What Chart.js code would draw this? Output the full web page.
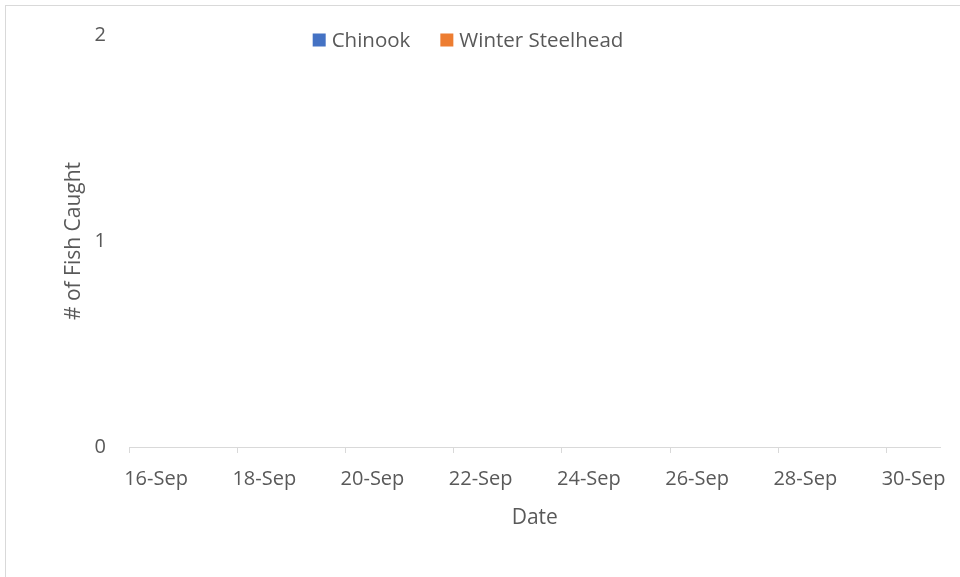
<!DOCTYPE html>
<html lang="en">
<head>
    <meta charset="UTF-8">
    <title>fish caught</title>
    <style>
        body { margin: 0; background: #fff; }
        #wrap { position: relative; width: 960px; height: 577px; overflow: hidden; }
        #frame { position: absolute; left: 5px; top: 5px; width: 1200px; height: 900px; border: 1px solid #d9d9d9; }
        #myChart { position: absolute; left: 0; top: 0; }
    </style>
</head>
<body>
    <div id="wrap">
        <div id="frame"></div>
        <canvas id="myChart" width="960" height="577"></canvas>
    </div>

    <script src="https://cdn.jsdelivr.net/npm/chart.js"></script>
    <script>
const dates = ['16-Sep','17-Sep','18-Sep','19-Sep','20-Sep','21-Sep','22-Sep','23-Sep',
               '24-Sep','25-Sep','26-Sep','27-Sep','28-Sep','29-Sep','30-Sep']
const chinook = [0,0,0,0,0,0,0,0,0,0,0,0,0,0,0]
const winterSteelhead = [0,0,0,0,0,0,0,0,0,0,0,0,0,0,0]
const yTicks = [0, 1, 2]

const grey = '#595959'
const font = 'Open Sans'

// legend sits on top of the plot area like in the original, so draw it by hand
const topLegend = {
  id: 'topLegend',
  afterDraw(chart) {
    const c = chart.ctx
    const box = 13, gap = 6, between = 30
    c.save()
    c.font = '20.5px "' + font + '"'
    c.textBaseline = 'middle'
    const items = chart.data.datasets.map(d => ({ label: d.label, color: d.backgroundColor, w: c.measureText(d.label).width }))
    let total = items.reduce((s, it) => s + box + gap + it.w, 0) + between * (items.length - 1)
    let x = 468 - total / 2
    const y = 40
    items.forEach(it => {
      c.fillStyle = it.color
      c.fillRect(x, y - box / 2, box, box)
      x += box + gap
      c.fillStyle = grey
      c.fillText(it.label, x, y + 1)
      x += it.w + between
    })
    c.restore()
  }
}

new Chart(document.getElementById('myChart'), {
  type: 'bar',
  data: {
    labels: dates,
    datasets: [
      { label: 'Chinook', data: chinook, backgroundColor: '#4472C4' },
      { label: 'Winter Steelhead', data: winterSteelhead, backgroundColor: '#ED7D31' }
    ]
  },
  options: {
    responsive: false,
    animation: false,
    layout: { padding: { left: 0, right: 19, top: 35, bottom: 0 } },
    plugins: {
      legend: { display: false },
      tooltip: { enabled: false }
    },
    scales: {
      x: {
        offset: true,
        border: { color: '#d9d9d9', width: 1 },
        grid: {
          offset: true,
          drawOnChartArea: false,
          tickLength: 6,
          color: c => (c.index !== undefined && c.index % 2 === 0) ? '#d9d9d9' : 'rgba(0,0,0,0)'
        },
        ticks: {
          autoSkip: false,
          maxRotation: 0,
          padding: 14,
          color: grey,
          font: { family: font, size: 20 },
          callback: (v, i) => i % 2 === 0 ? dates[i] : ''
        },
        title: { display: true, text: 'Date', color: grey, font: { family: font, size: 21 }, padding: { top: 0, bottom: 46 } },
        afterFit: s => { s.height = 130 }
      },
      y: {
        min: yTicks[0],
        max: yTicks[yTicks.length - 1],
        border: { display: false },
        grid: { display: false, drawTicks: false },
        ticks: {
          stepSize: 1,
          padding: 23,
          color: grey,
          font: { family: font, size: 20 }
        },
        title: { display: true, text: '# of Fish Caught', color: grey, font: { family: font, size: 21 }, padding: { top: 61, bottom: 0 } },
        afterFit: s => { s.width = 129 }
      }
    }
  },
  plugins: [topLegend]
})
    </script>
</body>
</html>
